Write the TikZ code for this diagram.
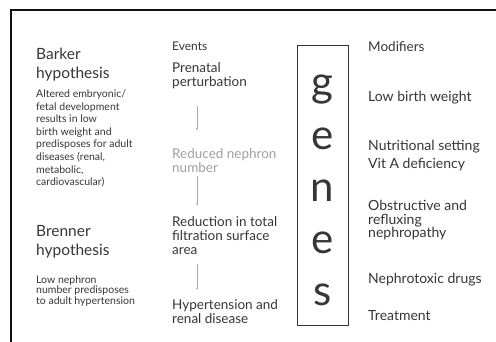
\documentclass[tikz,border=0pt]{standalone}
\usepackage{fontspec}
\setmainfont{Lato}
\usetikzlibrary{arrows.meta,positioning,calc}
\definecolor{inktext}{HTML}{363636}
\definecolor{fadetext}{HTML}{A0A0A0}
\definecolor{linkgray}{HTML}{A8A8A8}
\definecolor{frameline}{HTML}{111111}

\tikzset{
 block/.style={anchor=north west,inner sep=0pt,align=left,text=inktext},
 hyphead/.style={block,font=\fontsize{15.5}{19}\selectfont},
 hypnote/.style={block,font=\fontsize{10.5}{12.6}\selectfont},
 evtbox/.style={block,font=\fontsize{13.5}{14}\selectfont},
 modbox/.style={block,font=\fontsize{14}{13.5}\selectfont},
 colhead/.style={block,font=\fontsize{12}{13}\selectfont},
 geneletter/.style={anchor=base,inner sep=0pt,text=inktext,font=\fontsize{42}{42}\selectfont},
 evtlink/.style={draw=linkgray,line width=0.8pt,-{Stealth[length=2.5pt,width=2pt]}},
}

\begin{document}
\begin{tikzpicture}[x=1pt,y=-1pt]
\useasboundingbox (0,0) rectangle (496,342);
\draw[frameline,line width=2pt] (11,342) -- (11,10) -- (496,10);

% hypotheses
\node[hyphead] (barker) at (36,47.5) {Barker\\hypothesis};
\node[hypnote] (barkernote) at (36,89.5) {Altered embryonic/\\fetal development\\results in low\\birth weight and\\predisposes for adult\\diseases (renal,\\metabolic,\\cardiovascular)};
\node[hyphead] (brenner) at (36,225.5) {Brenner\\hypothesis};
\node[hypnote,font=\fontsize{10.5}{10.5}\selectfont] (brennernote) at (36,275.5) {Low nephron\\number predisposes\\to adult hypertension};

% events
\node[colhead] (events) at (172,41.5) {Events};
\node[evtbox] (ev1) at (172,62.5) {Prenatal\\perturbation};
\node[evtbox,text=fadetext] (ev2) at (172,148.5) {Reduced nephron\\number};
\node[evtbox] (ev3) at (172,216.5) {Reduction in total\\filtration surface\\area};
\node[evtbox] (ev4) at (172,299.5) {Hypertension and\\renal disease};
\foreach \a/\b/\gapa/\gapb in {ev1/ev2/17/18,ev2/ev3/3/11,ev3/ev4/9/9.5}
 \draw[evtlink] ($(\a.south west)+(25,\gapa)$) -- ($(\b.north west)+(25,-\gapb)$);

% genes
\node[draw=inktext,line width=0.8pt,minimum width=51pt,minimum height=280pt,inner sep=0pt] (genebox) at (322.5,185) {};
\foreach \g [count=\i from 0] in {g,e,n,e,s}
 \node[geneletter] (gene\i) at (322.5,97+52.2*\i) {\g};

% modifiers
\node[colhead,font=\fontsize{13.5}{13.5}\selectfont] (mods) at (368,41.5) {Modifiers};
\node[modbox] (mod1) at (368,91.3) {Low birth weight};
\node[modbox] (mod2) at (368,140.3) {Nutritional setting};
\node[modbox] (mod2b) at (368,158.3) {Vit A deficiency};
\node[modbox] (mod3) at (368,200.3) {Obstructive and\\refluxing\\nephropathy};
\node[modbox] (mod4) at (368,273.3) {Nephrotoxic drugs};
\node[modbox] (mod5) at (368,310.3) {Treatment};
\end{tikzpicture}
\end{document}
